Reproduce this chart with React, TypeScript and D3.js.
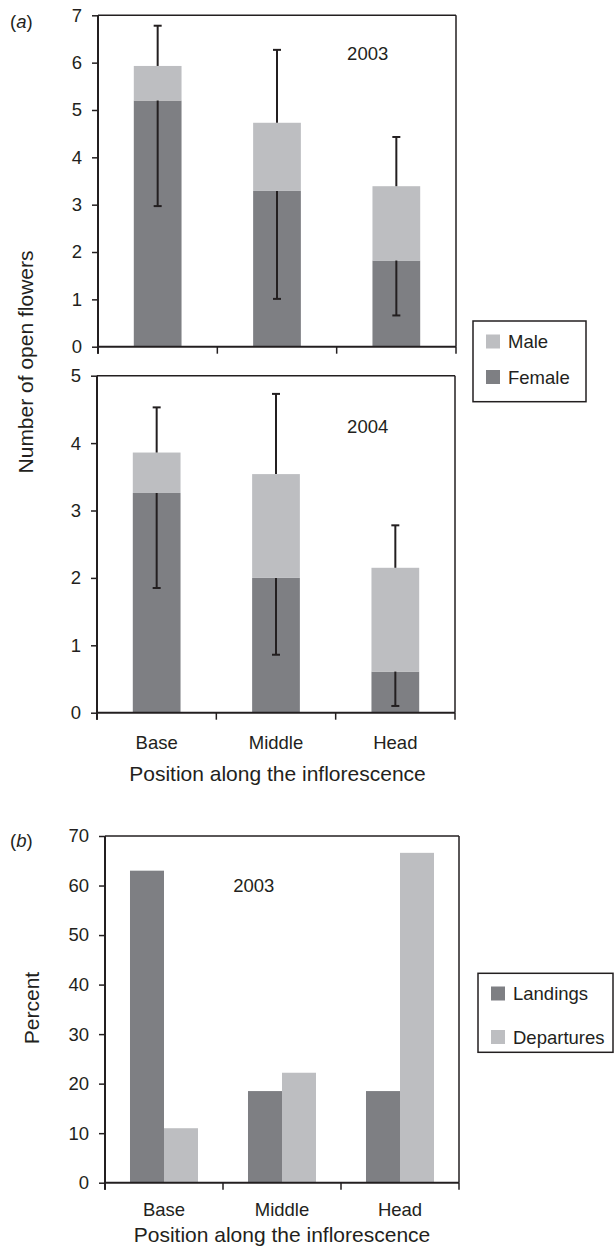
import React, { useEffect, useRef } from 'react'
import * as d3 from 'd3'

// categories along the inflorescence
const positions = ['Base', 'Middle', 'Head']

// (a) 2003 open flowers
const female2003 = [5.2, 3.29, 1.82]
const male2003 = [0.73, 1.44, 1.57]
const errLow2003 = [2.97, 1.01, 0.66]
const errHigh2003 = [6.78, 6.27, 4.43]

// (a) 2004 open flowers
const female2004 = [3.26, 2.0, 0.61]
const male2004 = [0.6, 1.54, 1.54]
const errLow2004 = [1.85, 0.86, 0.1]
const errHigh2004 = [4.53, 4.73, 2.78]

// (b) 2003 visits
const landings = [63, 18.5, 18.5]
const departures = [11.0, 22.2, 66.6]

const ticks2003 = [0, 1, 2, 3, 4, 5, 6, 7]
const ticks2004 = [0, 1, 2, 3, 4, 5]
const ticksPercent = [0, 10, 20, 30, 40, 50, 60, 70]

const DARK = '#7e7f83'
const LIGHT = '#bdbec1'
const INK = '#231f20'
const FONT = '"Liberation Sans", Arial, Helvetica, sans-serif'
const TICK = 18.5
const LABEL = 18.5
const TITLE = 21

const YAxis = ({ scale, ticks, x }) => {
  const ref = useRef(null)
  useEffect(() => {
    const g = d3.select(ref.current)
    g.call(
      d3.axisLeft(scale).tickValues(ticks).tickFormat(d3.format('d')).tickSize(6).tickPadding(10).tickSizeOuter(0)
    )
    g.select('.domain').remove()
    g.selectAll('.tick line').attr('stroke', INK).attr('stroke-width', 1.5)
    g.selectAll('.tick text').attr('fill', INK).attr('font-size', TICK).attr('font-family', FONT)
  })
  return <g ref={ref} transform={`translate(${x},0)`} />
}

// frame: heavy left/bottom axis, thin top/right, category dividers below the axis
const Frame = ({ x, y, tickLen = 7 }) => {
  const [x0, x1] = x.range()
  const [y0, y1] = y.range()
  const cuts = positions.map((p) => x(p)).concat([x1])
  return (
    <g>
      <line x1={x0} x2={x1} y1={y1} y2={y1} stroke={INK} strokeWidth={1.5} />
      <line x1={x1} x2={x1} y1={y1} y2={y0} stroke={INK} strokeWidth={1.5} />
      <line x1={x0} x2={x0} y1={y1} y2={y0 + tickLen} stroke={INK} strokeWidth={2} />
      <line x1={x0} x2={x1} y1={y0} y2={y0} stroke={INK} strokeWidth={2} />
      {cuts.map((c, i) => (
        <line key={i} x1={c} x2={c} y1={y0} y2={y0 + tickLen} stroke={INK} strokeWidth={1.5} />
      ))}
    </g>
  )
}

const StackedPanel = ({ female, male, errLow, errHigh, ticks, range, top, bottom, year, yearY }) => {
  const x = d3.scaleBand().domain(positions).range(range).paddingInner(0).paddingOuter(0)
  const y = d3.scaleLinear().domain([0, ticks[ticks.length - 1]]).range([bottom, top])
  const rows = positions.map((p, i) => ({ pos: p, female: female[i], male: male[i] }))
  const layers = d3.stack().keys(['female', 'male'])(rows)
  const barW = x.bandwidth() * 0.4
  const cx = (p) => x(p) + x.bandwidth() / 2
  return (
    <g>
      {layers.map((layer) => (
        <g key={layer.key} fill={layer.key === 'female' ? DARK : LIGHT}>
          {layer.map((d) => (
            <rect key={d.data.pos} x={cx(d.data.pos) - barW / 2} width={barW} y={y(d[1])} height={y(d[0]) - y(d[1])} />
          ))}
        </g>
      ))}
      {positions.map((p, i) => {
        // lower whisker hangs from the female top, upper whisker rises from the stack top
        const fTop = female[i]
        const sTop = female[i] + male[i]
        return (
          <g key={p} stroke={INK} strokeWidth={2}>
            <line x1={cx(p)} x2={cx(p)} y1={y(errLow[i])} y2={y(fTop)} />
            <line x1={cx(p)} x2={cx(p)} y1={y(sTop)} y2={y(errHigh[i])} />
            <line x1={cx(p) - 4} x2={cx(p) + 4} y1={y(errLow[i])} y2={y(errLow[i])} />
            <line x1={cx(p) - 4} x2={cx(p) + 4} y1={y(errHigh[i])} y2={y(errHigh[i])} />
          </g>
        )
      })}
      <Frame x={x} y={y} />
      <YAxis scale={y} ticks={ticks} x={range[0]} />
      <text x={367.7} y={yearY} fontSize={LABEL} textAnchor="middle" dominantBaseline="central" fill={INK}>
        {year}
      </text>
    </g>
  )
}

const Legend = ({ x, y, w, h, items, rowY }) => (
  <g>
    <rect x={x} y={y} width={w} height={h} fill="white" stroke={INK} strokeWidth={1.5} />
    {items.map((it, i) => (
      <g key={it.label}>
        <rect x={x + 13} y={rowY[i] - 7} width={14} height={14} fill={it.color} />
        <text x={x + 35} y={rowY[i]} fontSize={LABEL} dominantBaseline="central" fill={INK}>
          {it.label}
        </text>
      </g>
    ))}
  </g>
)

const GroupedPanel = () => {
  const x = d3.scaleBand().domain(positions).range([105, 459]).paddingInner(0).paddingOuter(0)
  const inner = d3.scaleBand().domain(['landings', 'departures']).range([0, x.bandwidth()]).paddingInner(0).paddingOuter(0.735)
  const y = d3.scaleLinear().domain([0, 70]).range([1182.7, 836])
  const series = { landings, departures }
  return (
    <g>
      {Object.keys(series).map((k) => (
        <g key={k} fill={k === 'landings' ? DARK : LIGHT}>
          {positions.map((p, i) => (
            <rect key={p} x={x(p) + inner(k)} width={inner.bandwidth()} y={y(series[k][i])} height={y(0) - y(series[k][i])} />
          ))}
        </g>
      ))}
      <Frame x={x} y={y} />
      <YAxis scale={y} ticks={ticksPercent} x={105} />
      <text x={253.8} y={885.3} fontSize={LABEL} textAnchor="middle" dominantBaseline="central" fill={INK}>
        2003
      </text>
      {positions.map((p) => (
        <text key={p} x={x(p) + x.bandwidth() / 2} y={1209.3} fontSize={LABEL} textAnchor="middle" dominantBaseline="central" fill={INK}>
          {p}
        </text>
      ))}
      <text x={282} y={1234} fontSize={TITLE} textAnchor="middle" dominantBaseline="central" fill={INK}>
        Position along the inflorescence
      </text>
      <text transform="translate(31,1008) rotate(-90)" fontSize={TITLE} textAnchor="middle" dominantBaseline="central" fill={INK}>
        Percent
      </text>
      <Legend
        x={478}
        y={973.3}
        w={135}
        h={79}
        rowY={[993.5, 1037]}
        items={[
          { label: 'Landings', color: DARK },
          { label: 'Departures', color: LIGHT },
        ]}
      />
      <text x={10} y={840} fontSize={LABEL} dominantBaseline="central" fill={INK}>
        (<tspan fontStyle="italic">b</tspan>)
      </text>
    </g>
  )
}

const App = () => {
  const xBottom = d3.scaleBand().domain(positions).range([97, 455])
  return (
    <svg width={616} height={1246} style={{ position: 'absolute', left: 0, top: 0, background: 'white' }} fontFamily={FONT}>
      <rect width={616} height={1246} fill="white" />
      <StackedPanel
        female={female2003}
        male={male2003}
        errLow={errLow2003}
        errHigh={errHigh2003}
        ticks={ticks2003}
        range={[98, 456]}
        top={15.3}
        bottom={346.7}
        year="2003"
        yearY={53.7}
      />
      <StackedPanel
        female={female2004}
        male={male2004}
        errLow={errLow2004}
        errHigh={errHigh2004}
        ticks={ticks2004}
        range={[97, 455]}
        top={375.7}
        bottom={712.7}
        year="2004"
        yearY={426}
      />
      {positions.map((p) => (
        <text key={p} x={xBottom(p) + xBottom.bandwidth() / 2} y={742} fontSize={LABEL} textAnchor="middle" dominantBaseline="central" fill={INK}>
          {p}
        </text>
      ))}
      <text x={277.5} y={773} fontSize={TITLE} textAnchor="middle" dominantBaseline="central" fill={INK}>
        Position along the inflorescence
      </text>
      <text transform="translate(25,362) rotate(-90)" fontSize={TITLE} textAnchor="middle" dominantBaseline="central" fill={INK}>
        Number of open flowers
      </text>
      <Legend
        x={473}
        y={321}
        w={113}
        h={80.7}
        rowY={[341.5, 377]}
        items={[
          { label: 'Male', color: LIGHT },
          { label: 'Female', color: DARK },
        ]}
      />
      <text x={10} y={21} fontSize={LABEL} dominantBaseline="central" fill={INK}>
        (<tspan fontStyle="italic">a</tspan>)
      </text>
      <GroupedPanel />
    </svg>
  )
}

export default App
